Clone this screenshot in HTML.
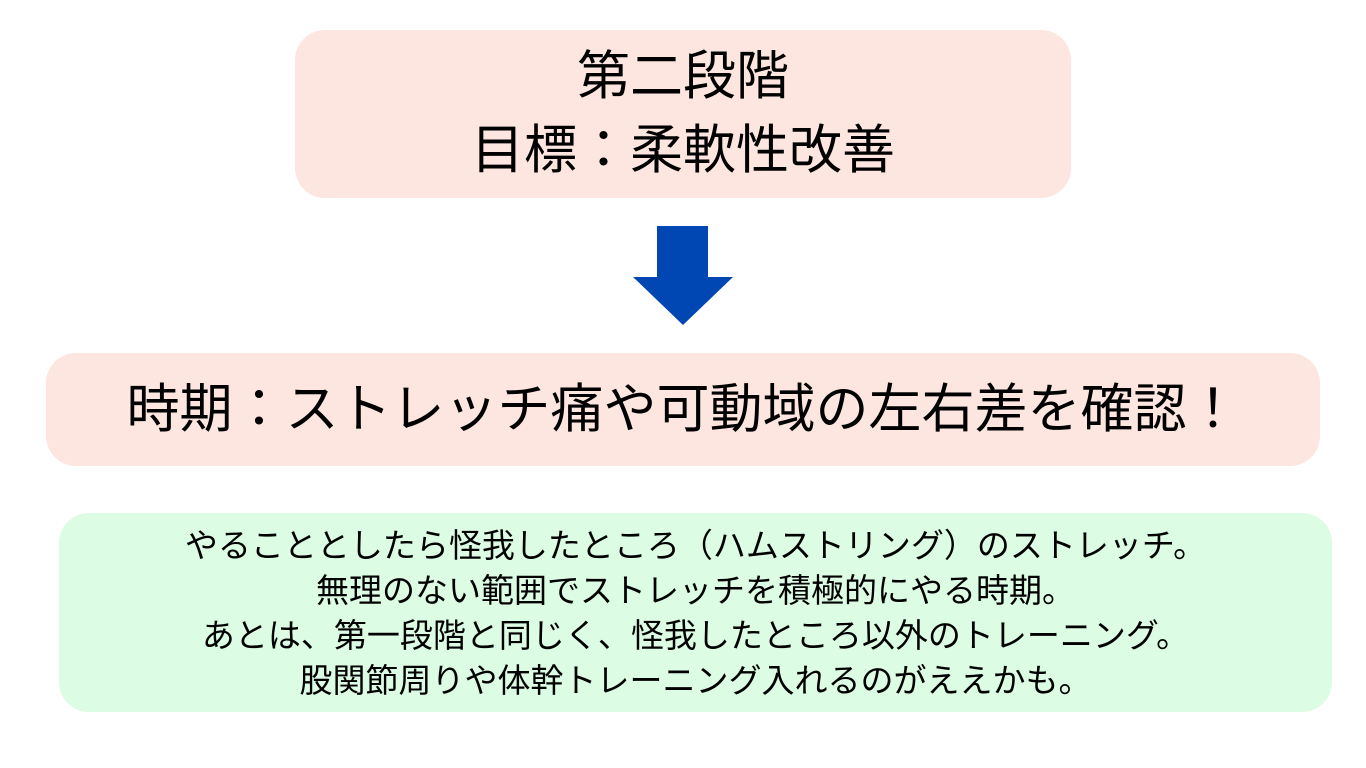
<!DOCTYPE html>
<html><head><meta charset="utf-8"><style>
body{margin:0;width:1366px;height:768px;background:#fff;position:relative;overflow:hidden;font-family:"Liberation Sans","Noto Sans CJK JP",sans-serif;color:#000}
.b{position:absolute;border-radius:30px;text-align:center;white-space:nowrap}
</style></head><body>
<div class="b" style="left:295px;top:30px;width:776px;height:168px;background:#fde6df;font-size:53px;line-height:74px;padding-top:10px;box-sizing:border-box">第二段階<br>目標：柔軟性改善</div>
<svg style="position:absolute;left:0;top:0" width="1366" height="768"><polygon points="657,226 708,226 708,277 733,277 683,325 633,277 657,277" fill="#0047b3"/></svg>
<div class="b" style="left:46px;top:353px;width:1274px;height:113px;background:#fde6df;font-size:53px;line-height:113px">時期：ストレッチ痛や可動域の左右差を確認！</div>
<div class="b" style="left:59px;top:513px;width:1273px;height:199px;background:#dcfce4;font-size:33px;line-height:45px;padding-top:10px;box-sizing:border-box">やることとしたら怪我したところ（ハムストリング）のストレッチ。<br>無理のない範囲でストレッチを積極的にやる時期。<br>あとは、第一段階と同じく、怪我したところ以外のトレーニング。<br>股関節周りや体幹トレーニング入れるのがええかも。</div>
</body></html>
